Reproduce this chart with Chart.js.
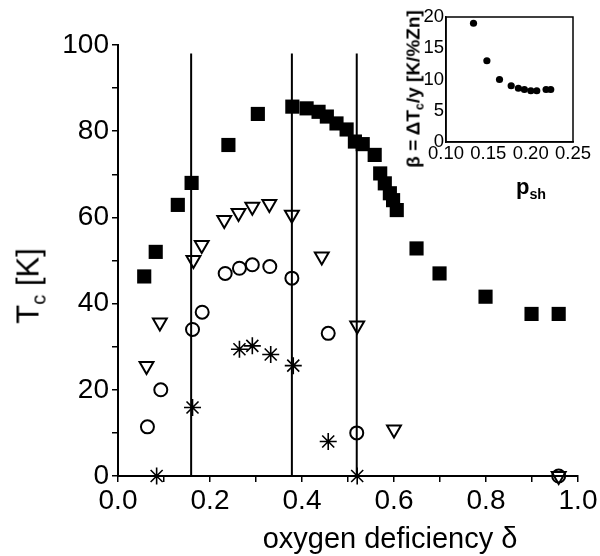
<!DOCTYPE html>
<html>
<head>
<meta charset="utf-8">
<script src="https://cdn.jsdelivr.net/npm/chart.js@4.4.1/dist/chart.umd.min.js"></script>
<style>
  html, body { margin: 0; padding: 0; background: #fff; }
  #wrap { position: relative; width: 600px; height: 556px; font-family: 'Liberation Sans', Arial, sans-serif; color: #000; }
  #main { position: absolute; left: 0; top: 0; }
  #inset { position: absolute; left: 380px; top: 0; }
  .lbl { position: absolute; white-space: nowrap; line-height: 1; }
  .rot { transform: translate(-50%, -50%) rotate(-90deg); }
  .ctr { transform: translate(-50%, -50%); }
  sub { font-size: 65%; vertical-align: -0.35em; line-height: 0; }
</style>
</head>
<body>
<div id="wrap">
  <canvas id="main" width="600" height="556"></canvas>
  <canvas id="inset" width="220" height="200"></canvas>
  <div class="lbl rot" style="left:28px; top:286px; font-size:31px;">T<sub>c</sub> [K]</div>
  <div class="lbl ctr" style="left:390px; top:538px; font-size:29px;">oxygen deficiency δ</div>
  <div class="lbl rot" style="left:413px; top:89px; font-size:19px; font-weight:bold;">β = ΔT<sub>c</sub>/y [K/%Zn]</div>
  <div class="lbl ctr" style="left:531px; top:187px; font-size:22px; font-weight:bold;">p<sub>sh</sub></div>
</div>
<script>
// main panel: Tc vs oxygen deficiency
const sqX = [0.057, 0.082, 0.130, 0.160, 0.240, 0.304, 0.379, 0.410, 0.436, 0.454, 0.475, 0.497, 0.515, 0.532, 0.558, 0.570, 0.580, 0.591, 0.598, 0.606, 0.649, 0.699, 0.799, 0.899, 0.958];
const sqY = [46.3, 52.0, 62.9, 68.0, 76.8, 84.0, 85.7, 85.3, 84.5, 83.4, 81.8, 80.4, 77.6, 77.0, 74.5, 70.2, 67.9, 65.6, 64.0, 61.7, 52.8, 47.0, 41.6, 37.6, 37.6];

const triX = [0.062, 0.091, 0.164, 0.182, 0.231, 0.262, 0.292, 0.329, 0.378, 0.443, 0.520, 0.600, 0.958];
const triY = [25.5, 35.6, 50.1, 53.6, 59.4, 61.0, 62.5, 63.1, 60.6, 50.9, 34.9, 10.8, 0];

const circX = [0.064, 0.093, 0.162, 0.183, 0.233, 0.264, 0.292, 0.330, 0.378, 0.457, 0.519, 0.958];
const circY = [11.4, 20.0, 34.0, 38.0, 47.0, 48.2, 49.0, 48.6, 45.9, 33.1, 10.0, 0];

const starX = [0.084, 0.162, 0.264, 0.292, 0.332, 0.381, 0.457, 0.520];
const starY = [0, 15.9, 29.4, 30.2, 28.2, 25.6, 8.0, 0];

const vlineX = [0.159, 0.378, 0.519];
const vlineTop = 98;

// inset: beta vs p_sh
const pSh = [0.1325, 0.1483, 0.1632, 0.1770, 0.1855, 0.1926, 0.2002, 0.2072, 0.2182, 0.2237];
const beta = [19.0, 13.0, 10.0, 9.0, 8.6, 8.4, 8.2, 8.2, 8.4, 8.4];

Chart.defaults.font.family = "'Liberation Sans', Arial, sans-serif";
Chart.defaults.color = '#000';

const pts = (xs, ys) => xs.map((x, i) => ({ x: x, y: ys[i] }));

const markerSets = [
    { data: pts(sqX, sqY), pointStyle: 'rect', pointRadius: 10, backgroundColor: '#000', borderColor: '#000', borderWidth: 0 },
    { data: pts(triX, triY), pointStyle: 'triangle', pointRotation: 180, pointRadius: 8, backgroundColor: 'rgba(0,0,0,0)', borderColor: '#000', borderWidth: 2 },
    { data: pts(circX, circY), pointStyle: 'circle', pointRadius: 6.5, backgroundColor: 'rgba(0,0,0,0)', borderColor: '#000', borderWidth: 2 },
    { data: pts(starX, starY), pointStyle: 'star', pointRadius: 8.5, backgroundColor: '#000', borderColor: '#000', borderWidth: 1.6 }
];

const lineSets = vlineX.map(x => ({
    data: [{ x: x, y: 0 }, { x: x, y: vlineTop }],
    showLine: true, pointRadius: 0, borderColor: '#000', borderWidth: 2
}));

const datasets = [...markerSets, ...lineSets].map(d => Object.assign({ clip: false }, d));

new Chart(document.getElementById('main'), {
    type: 'scatter',
    data: { datasets },
    options: {
        responsive: false, animation: false,
        layout: { padding: { top: 45, right: 22, left: 0, bottom: 0 } },
        plugins: { legend: { display: false }, tooltip: { enabled: false } },
        scales: {
            x: {
                type: 'linear', min: 0, max: 1,
                afterFit: s => { s.height = 80; },
                ticks: {
                    stepSize: 0.1, autoSkip: false, maxRotation: 0, padding: 2,
                    font: { size: 28 }, color: '#000',
                    callback: v => Math.round(v * 10) % 2 === 0 ? v.toFixed(1) : ''
                },
                grid: { drawOnChartArea: false, tickLength: 6, color: '#000', lineWidth: 1.5 },
                border: { color: '#000', width: 2 }
            },
            y: {
                type: 'linear', min: 0, max: 100,
                afterFit: s => { s.width = 118; },
                ticks: {
                    stepSize: 10, autoSkip: false, padding: 3,
                    font: { size: 28 }, color: '#000',
                    callback: v => v % 20 === 0 ? String(v) : ''
                },
                grid: { drawOnChartArea: false, tickLength: 6, color: '#000', lineWidth: 1.5 },
                border: { color: '#000', width: 2 }
            }
        }
    }
});

// closed frame round the inset plot area
const boxPlugin = {
    id: 'box',
    afterDraw(chart) {
        const a = chart.chartArea, ctx = chart.ctx;
        ctx.save();
        ctx.strokeStyle = '#000';
        ctx.lineWidth = 1.5;
        ctx.strokeRect(a.left, a.top, a.right - a.left, a.bottom - a.top);
        ctx.restore();
    }
};

new Chart(document.getElementById('inset'), {
    type: 'scatter',
    data: {
        datasets: [{
            data: pts(pSh, beta), pointStyle: 'circle', pointRadius: 3.6,
            backgroundColor: '#000', borderColor: '#000', borderWidth: 0, clip: false
        }]
    },
    options: {
        responsive: false, animation: false,
        layout: { padding: { top: 17, right: 27, left: 0, bottom: 0 } },
        plugins: { legend: { display: false }, tooltip: { enabled: false } },
        scales: {
            x: {
                type: 'linear', min: 0.10, max: 0.25,
                afterFit: s => { s.height = 58; },
                ticks: { stepSize: 0.05, autoSkip: false, maxRotation: 0, padding: 1, font: { size: 18.5 }, color: '#000', callback: v => v.toFixed(2) },
                grid: { display: false, drawTicks: false, tickLength: 0 },
                border: { color: '#000', width: 1.5 }
            },
            y: {
                type: 'linear', min: 0, max: 20,
                afterFit: s => { s.width = 66; },
                ticks: { stepSize: 5, autoSkip: false, padding: 2, font: { size: 18.5 }, color: '#000' },
                grid: { display: false, drawTicks: false, tickLength: 0 },
                border: { color: '#000', width: 1.5 }
            }
        }
    },
    plugins: [boxPlugin]
});
</script>
</body>
</html>
